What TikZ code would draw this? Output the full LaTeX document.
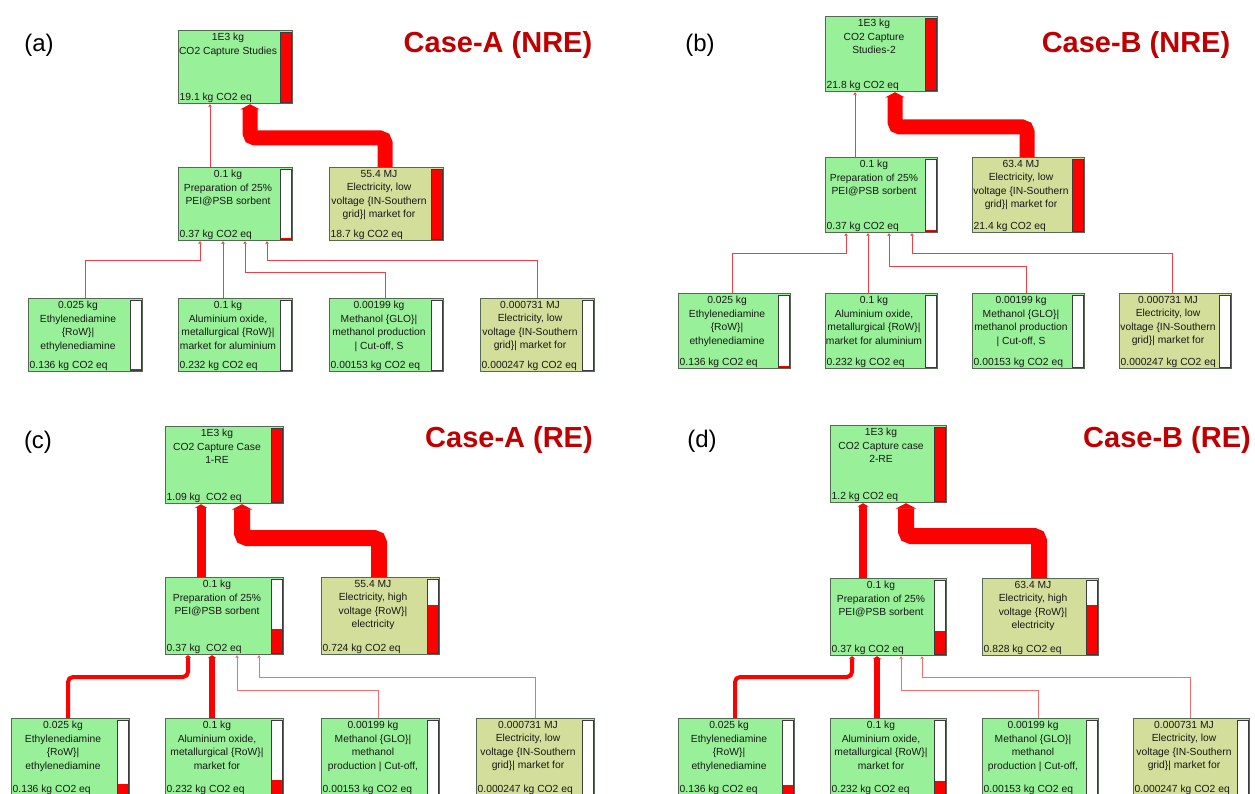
\documentclass[tikz,border=0pt]{standalone}
\usepackage{fontspec}
\setmainfont{Liberation Sans}
\usetikzlibrary{arrows.meta,calc}
\definecolor{boxg}{RGB}{152,240,152}
\definecolor{boxe}{RGB}{210,222,154}
\definecolor{edgec}{RGB}{85,105,85}
\definecolor{barc}{RGB}{60,60,60}
\definecolor{linec}{RGB}{236,64,72}
\definecolor{linep}{RGB}{240,110,110}
\definecolor{casec}{RGB}{192,0,0}
\definecolor{txtc}{RGB}{25,25,25}
\tikzset{
 pbx/.style={draw=edgec, line width=1.2pt, inner sep=0pt},
 ptx/.style={font=\fontsize{10.3}{13.5}\selectfont, align=center, inner sep=0pt, text=txtc},
 pvl/.style={font=\fontsize{10.3}{13.5}\selectfont, inner sep=0pt, text=txtc},
 fl/.style={draw=red, line width=#1, -{Triangle[length=1.5pt 0.25,width=1.5pt 1.2]}, rounded corners=5pt},
 tfl/.style={draw=#1, line width=1pt, -{Triangle[length=2.5pt,width=3.5pt]}},
 tfl/.default=linec,
 plab/.style={font=\fontsize{24}{28}\selectfont, anchor=base, inner sep=0pt},
 clab/.style={font=\fontsize{29}{34}\selectfont\bfseries, text=casec, anchor=base, inner sep=0pt},
}
% name, x, y, w, h, fill, red fraction, text, value
\newcommand\pbox[9]{%
 \node[pbx, fill=#6, minimum width=#4pt, minimum height=#5pt, anchor=north west] (#1) at (#2,#3) {};
 \fill[white] ($(#1.north east)+(-13,2)$) rectangle ($(#1.south east)+(-2,-2)$);
 \fill[red] ($(#1.south east)+(-13,-2)$) rectangle ($(#1.south east)+({-2},{-2-#7*(#5-4)})$);
 \draw[barc, line width=0.8pt] ($(#1.north east)+(-13,2)$) rectangle ($(#1.south east)+(-2,-2)$);
 \node[ptx, anchor=north] (#1t) at ($(#1.north west)+({(#4-14)/2},3)$) {#8};
 \node[pvl, anchor=south west] (#1v) at ($(#1.south west)+(1.5,-1.5)$) {#9};
}
\begin{document}
\begin{tikzpicture}[x=1pt,y=-1pt]
\useasboundingbox (0,0) rectangle (1255,794);
\fill[white] (0,0) rectangle (1255,794);

% ---------------- panel (a)
\node[plab] (a-lab) at (39,52) {(a)};
\node[clab] (a-case) at (498,53) {Case-A (NRE)};
\pbox{a-top}{178}{30}{114}{73}{boxg}{1}{1E3 kg\\CO2 Capture Studies}{19.1 kg CO2 eq}
\pbox{a-prep}{178}{167}{114}{73}{boxg}{0.02}{0.1 kg\\Preparation of 25\%\\PEI@PSB sorbent}{0.37 kg CO2 eq}
\pbox{a-elec}{329}{167}{114}{73}{boxe}{1}{55.4 MJ\\Electricity, low\\voltage \{IN-Southern\\grid\}| market for}{18.7 kg CO2 eq}
\pbox{a-b1}{28}{298}{114}{73}{boxg}{0.02}{0.025 kg\\Ethylenediamine\\\{RoW\}|\\ethylenediamine}{0.136 kg CO2 eq}
\pbox{a-b2}{178}{298}{114}{73}{boxg}{0}{0.1 kg\\Aluminium oxide,\\metallurgical \{RoW\}|\\market for aluminium}{0.232 kg CO2 eq}
\pbox{a-b3}{329}{298}{114}{73}{boxg}{0}{0.00199 kg\\Methanol \{GLO\}|\\methanol production\\| Cut-off, S}{0.00153 kg CO2 eq}
\pbox{a-b4}{480}{298}{114}{73}{boxe}{0}{0.000731 MJ\\Electricity, low\\voltage \{IN-Southern\\grid\}| market for}{0.000247 kg CO2 eq}
\draw[tfl] (a-prep.north -| 210,0) -- (a-top.south -| 210,0);
\draw[fl=15pt] (a-elec.north -| 385,0) |- (250,138) -- (a-top.south -| 250,0);
\draw[tfl] (a-b1.north -| 85,0) |- (200,261) -- (a-prep.south -| 200,0);
\draw[tfl] (a-b2.north -| 223,0) -- (a-prep.south -| 223,0);
\draw[tfl] (a-b3.north -| 385,0) |- (245,273) -- (a-prep.south -| 245,0);
\draw[tfl] (a-b4.north -| 537,0) |- (267,261) -- (a-prep.south -| 267,0);

% ---------------- panel (b)
\node[plab] (b-lab) at (700,52) {(b)};
\node[clab] (b-case) at (1136,53) {Case-B (NRE)};
\pbox{b-top}{825}{16}{112}{75}{boxg}{1}{1E3 kg\\CO2 Capture\\Studies-2}{21.8 kg CO2 eq}
\pbox{b-prep}{825}{157}{112}{75}{boxg}{0.02}{0.1 kg\\Preparation of 25\%\\PEI@PSB sorbent}{0.37 kg CO2 eq}
\pbox{b-elec}{972}{157}{112}{75}{boxe}{1}{63.4 MJ\\Electricity, low\\voltage \{IN-Southern\\grid\}| market for}{21.4 kg CO2 eq}
\pbox{b-b1}{678}{293}{112}{75}{boxg}{0.02}{0.025 kg\\Ethylenediamine\\\{RoW\}|\\ethylenediamine}{0.136 kg CO2 eq}
\pbox{b-b2}{825}{293}{112}{75}{boxg}{0}{0.1 kg\\Aluminium oxide,\\metallurgical \{RoW\}|\\market for aluminium}{0.232 kg CO2 eq}
\pbox{b-b3}{972}{293}{112}{75}{boxg}{0}{0.00199 kg\\Methanol \{GLO\}|\\methanol production\\| Cut-off, S}{0.00153 kg CO2 eq}
\pbox{b-b4}{1119}{293}{112}{75}{boxe}{0}{0.000731 MJ\\Electricity, low\\voltage \{IN-Southern\\grid\}| market for}{0.000247 kg CO2 eq}
\draw[tfl] (b-prep.north -| 855,0) -- (b-top.south -| 855,0);
\draw[fl=15pt] (b-elec.north -| 1027,0) |- (895,127) -- (b-top.south -| 895,0);
\draw[tfl] (b-b1.north -| 732,0) |- (846,254) -- (b-prep.south -| 846,0);
\draw[tfl] (b-b2.north -| 868,0) -- (b-prep.south -| 868,0);
\draw[tfl] (b-b3.north -| 1026,0) |- (889,267) -- (b-prep.south -| 889,0);
\draw[tfl] (b-b4.north -| 1172,0) |- (912,254) -- (b-prep.south -| 912,0);

% ---------------- panel (c)
\node[plab] (c-lab) at (38,448) {(c)};
\node[clab] (c-case) at (509,447) {Case-A (RE)};
\pbox{c-top}{165}{426}{118}{77}{boxg}{1}{1E3 kg\\CO2 Capture Case\\1-RE}{1.09 kg\ \ CO2 eq}
\pbox{c-prep}{165}{577}{118}{77}{boxg}{0.33}{0.1 kg\\Preparation of 25\%\\PEI@PSB sorbent}{0.37 kg\ \ CO2 eq}
\pbox{c-elec}{321}{577}{118}{77}{boxe}{0.66}{55.4 MJ\\Electricity, high\\voltage \{RoW\}|\\electricity}{0.724 kg CO2 eq}
\pbox{c-b1}{11}{718}{118}{77}{boxg}{0.14}{0.025 kg\\Ethylenediamine\\\{RoW\}|\\ethylenediamine}{0.136 kg CO2 eq}
\pbox{c-b2}{165}{718}{118}{77}{boxg}{0.2}{0.1 kg\\Aluminium oxide,\\metallurgical \{RoW\}|\\market for}{0.232 kg CO2 eq}
\pbox{c-b3}{321}{718}{118}{77}{boxg}{0}{0.00199 kg\\Methanol \{GLO\}|\\methanol\\production | Cut-off,}{0.00153 kg CO2 eq}
\pbox{c-b4}{476}{718}{118}{77}{boxe}{0}{0.000731 MJ\\Electricity, low\\voltage \{IN-Southern\\grid\}| market for}{0.000247 kg CO2 eq}
\draw[fl=9pt] (c-prep.north -| 201,0) -- (c-top.south -| 201,0);
\draw[fl=16pt] (c-elec.north -| 379,0) |- (242,538) -- (c-top.south -| 242,0);
\draw[fl=4pt] (c-b1.north -| 68,0) |- (188,677) -- (c-prep.south -| 188,0);
\draw[fl=6pt] (c-b2.north -| 212,0) -- (c-prep.south -| 212,0);
\draw[tfl=linep] (c-b3.north -| 378,0) |- (237,690) -- (c-prep.south -| 237,0);
\draw[tfl=linep] (c-b4.north -| 535,0) |- (259,677) -- (c-prep.south -| 259,0);

% ---------------- panel (d)
\node[plab] (d-lab) at (702,447) {(d)};
\node[clab] (d-case) at (1167,447) {Case-B (RE)};
\pbox{d-top}{830}{425}{116}{77}{boxg}{1}{1E3 kg\\CO2 Capture case\\2-RE}{1.2 kg CO2 eq}
\pbox{d-prep}{830}{578}{116}{77}{boxg}{0.32}{0.1 kg\\Preparation of 25\%\\PEI@PSB sorbent}{0.37 kg CO2 eq}
\pbox{d-elec}{982}{578}{116}{77}{boxe}{0.68}{63.4 MJ\\Electricity, high\\voltage \{RoW\}|\\electricity}{0.828 kg CO2 eq}
\pbox{d-b1}{678}{718}{116}{77}{boxg}{0.13}{0.025 kg\\Ethylenediamine\\\{RoW\}|\\ethylenediamine}{0.136 kg CO2 eq}
\pbox{d-b2}{830}{718}{116}{77}{boxg}{0.18}{0.1 kg\\Aluminium oxide,\\metallurgical \{RoW\}|\\market for}{0.232 kg CO2 eq}
\pbox{d-b3}{982}{718}{116}{77}{boxg}{0}{0.00199 kg\\Methanol \{GLO\}|\\methanol\\production | Cut-off,}{0.00153 kg CO2 eq}
\pbox{d-b4}{1133}{718}{116}{77}{boxe}{0}{0.000731 MJ\\Electricity, low\\voltage \{IN-Southern\\grid\}| market for}{0.000247 kg CO2 eq}
\draw[fl=8pt] (d-prep.north -| 863,0) -- (d-top.south -| 863,0);
\draw[fl=16pt] (d-elec.north -| 1039,0) |- (906,536) -- (d-top.south -| 906,0);
\draw[fl=4pt] (d-b1.north -| 735,0) |- (852,677) -- (d-prep.south -| 852,0);
\draw[fl=6pt] (d-b2.north -| 877,0) -- (d-prep.south -| 877,0);
\draw[tfl=linep] (d-b3.north -| 1038,0) |- (901,690) -- (d-prep.south -| 901,0);
\draw[tfl=linep] (d-b4.north -| 1190,0) |- (922,677) -- (d-prep.south -| 922,0);
\end{tikzpicture}
\end{document}
